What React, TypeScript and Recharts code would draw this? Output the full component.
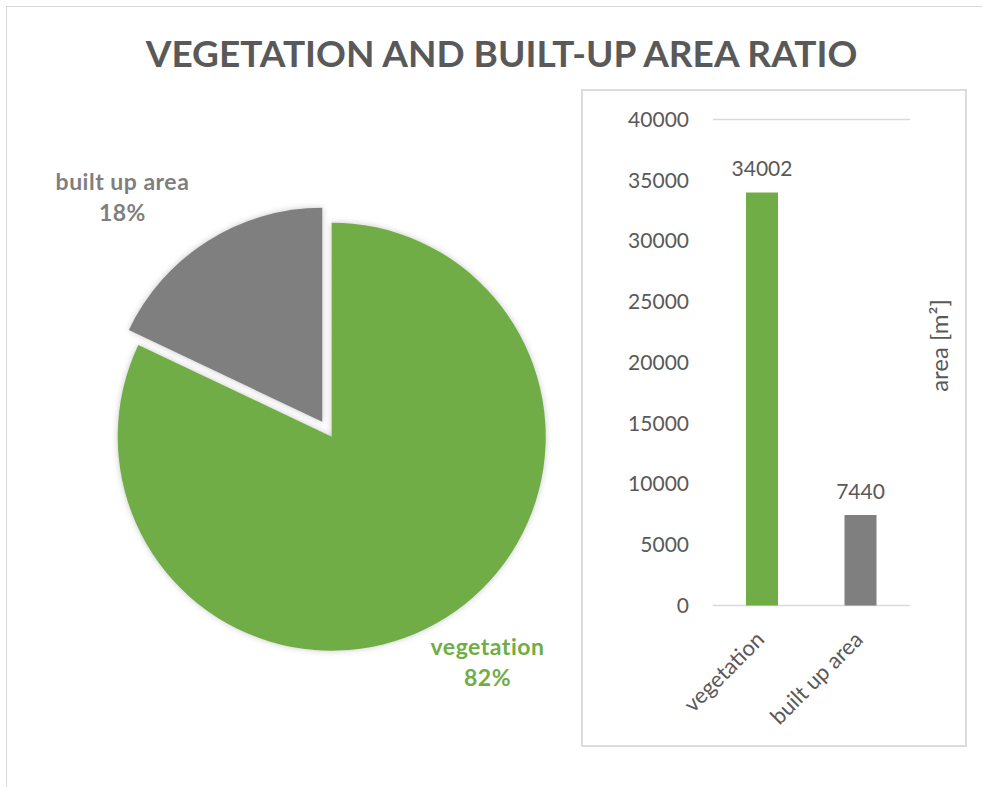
import React from 'react'
import { PieChart, Pie, Cell, BarChart, Bar, XAxis, YAxis, CartesianGrid, LabelList } from 'recharts'

const categories = ['vegetation', 'built up area']
const areaValues = [34002, 7440]
const yTicks = [0, 5000, 10000, 15000, 20000, 25000, 30000, 35000, 40000]
const sliceColors = ['#70ad47', '#7f7f7f']

const TEXT_GRAY = '#595959'
const FONT = 'Lato, "Open Sans", sans-serif'
const RAD = Math.PI / 180

const total = areaValues.reduce((a, b) => a + b, 0)
const pieData = categories.map((name, i) => ({ name, value: areaValues[i] }))
const barData = categories.map((name, i) => ({ name, area: areaValues[i] }))

// pie geometry
const PIE_CX = 331.7
const PIE_CY = 436.7
const PIE_R = 214
const EXPLODE = 17.7

// built-up slice is pulled out along its middle angle
const builtShare = areaValues[1] / total
const builtMid = 90 - 360 * (1 - builtShare / 2)
const builtCx = PIE_CX + EXPLODE * Math.cos(builtMid * RAD)
const builtCy = PIE_CY - EXPLODE * Math.sin(builtMid * RAD)

// label placement tweaks per slice (radius factor, angle shift)
const LABEL_FACTOR = [1.285, 1.403]
const LABEL_SHIFT = [2.2, 9.4]

const makePieLabel = (visibleIndex: number) => (props: any) => {
  const { cx, cy, midAngle, outerRadius, index } = props
  if (index !== visibleIndex) return null
  const r = outerRadius * LABEL_FACTOR[index]
  const a = (midAngle + LABEL_SHIFT[index]) * RAD
  const x = cx + r * Math.cos(a)
  const y = cy - r * Math.sin(a)
  const pct = Math.round((areaValues[index] / total) * 100)
  return (
    <text
      x={x}
      y={y}
      textAnchor="middle"
      fill={sliceColors[index]}
      style={{ fontFamily: FONT, fontSize: 23, fontWeight: 700, letterSpacing: 0.5 }}
    >
      <tspan x={x} y={y - 8}>{categories[index]}</tspan>
      <tspan x={x} y={y + 23}>{pct}%</tspan>
    </text>
  )
}

const sliceShadow = { filter: 'drop-shadow(0 0 3px rgba(0,0,0,0.22))' }

const RotatedTick = (props: any) => {
  const { x, y, payload } = props
  const tx = x - 2
  const ty = y + 22
  return (
    <text
      x={tx}
      y={ty}
      dy="0.35em"
      textAnchor="end"
      fill={TEXT_GRAY}
      transform={`rotate(-45, ${tx}, ${ty})`}
      style={{ fontFamily: FONT, fontSize: 22 }}
    >
      {payload.value}
    </text>
  )
}

const AreaLabel = (props: any) => {
  const { viewBox } = props
  const x = viewBox.x + viewBox.width / 2 + 2
  const y = viewBox.y + viewBox.height / 2 - 17
  return (
    <text
      x={x}
      y={y}
      dy="0.35em"
      textAnchor="middle"
      fill={TEXT_GRAY}
      transform={`rotate(-90, ${x}, ${y})`}
      style={{ fontFamily: FONT, fontSize: 24 }}
    >
      area [m²]
    </text>
  )
}

function App() {
  return (
    <div style={{ position: 'absolute', left: 0, top: 0, width: 982, height: 787, overflow: 'hidden', background: '#fff', fontFamily: FONT }}>
      <div style={{ position: 'absolute', left: 6, top: 6, width: 1100, height: 1100, border: '1.5px solid #d9d9d9' }} />

      <div
        style={{
          position: 'absolute',
          left: 0,
          width: 1003,
          top: 28,
          textAlign: 'center',
          fontSize: 37,
          fontWeight: 700,
          color: TEXT_GRAY,
          lineHeight: '50px',
        }}
      >
        VEGETATION AND BUILT-UP AREA RATIO
      </div>

      <div style={{ position: 'absolute', left: 0, top: 0 }}>
        <PieChart width={580} height={787} margin={{ top: 0, right: 0, bottom: 0, left: 0 }}>
          <Pie
            data={pieData}
            dataKey="value"
            nameKey="name"
            cx={PIE_CX}
            cy={PIE_CY}
            outerRadius={PIE_R}
            startAngle={90}
            endAngle={-270}
            stroke="none"
            labelLine={false}
            label={makePieLabel(0)}
            isAnimationActive={false}
          >
            <Cell fill={sliceColors[0]} style={sliceShadow} />
            <Cell fill="none" stroke="none" />
          </Pie>
          <Pie
            data={pieData}
            dataKey="value"
            nameKey="name"
            cx={builtCx}
            cy={builtCy}
            outerRadius={PIE_R}
            startAngle={90}
            endAngle={-270}
            stroke="none"
            labelLine={false}
            label={makePieLabel(1)}
            isAnimationActive={false}
          >
            <Cell fill="none" stroke="none" />
            <Cell fill={sliceColors[1]} style={sliceShadow} />
          </Pie>
        </PieChart>
      </div>

      <div style={{ position: 'absolute', left: 581, top: 89, width: 386, height: 658, boxSizing: 'border-box', border: '2px solid #dcdcdc' }} />
      <div style={{ position: 'absolute', left: 582, top: 90 }}>
        <BarChart
          width={384}
          height={656}
          data={barData}
          margin={{ top: 29.5, right: 0, bottom: 0.5, left: 0 }}
          barSize={32}
        >
          <CartesianGrid vertical={false} stroke="#d9d9d9" strokeWidth={1.5} />
          <XAxis
            dataKey="name"
            axisLine={false}
            tickLine={false}
            height={140}
            interval={0}
            tick={<RotatedTick />}
          />
          <YAxis
            yAxisId="left"
            domain={[0, 40000]}
            ticks={yTicks}
            width={131}
            axisLine={false}
            tickLine={false}
            tickSize={0}
            tickMargin={24}
            tick={{ fill: TEXT_GRAY, fontSize: 21, fontFamily: FONT }}
          />
          <YAxis
            yAxisId="right"
            orientation="right"
            domain={[0, 40000]}
            width={56}
            axisLine={false}
            tickLine={false}
            tick={false}
            label={<AreaLabel />}
          />
          <Bar yAxisId="left" dataKey="area" isAnimationActive={false}>
            {barData.map((d, i) => (
              <Cell key={d.name} fill={sliceColors[i]} />
            ))}
            <LabelList dataKey="area" position="top" offset={16} fill={TEXT_GRAY} fontSize={21} fontFamily={FONT} />
          </Bar>
        </BarChart>
      </div>
    </div>
  )
}

export default App
